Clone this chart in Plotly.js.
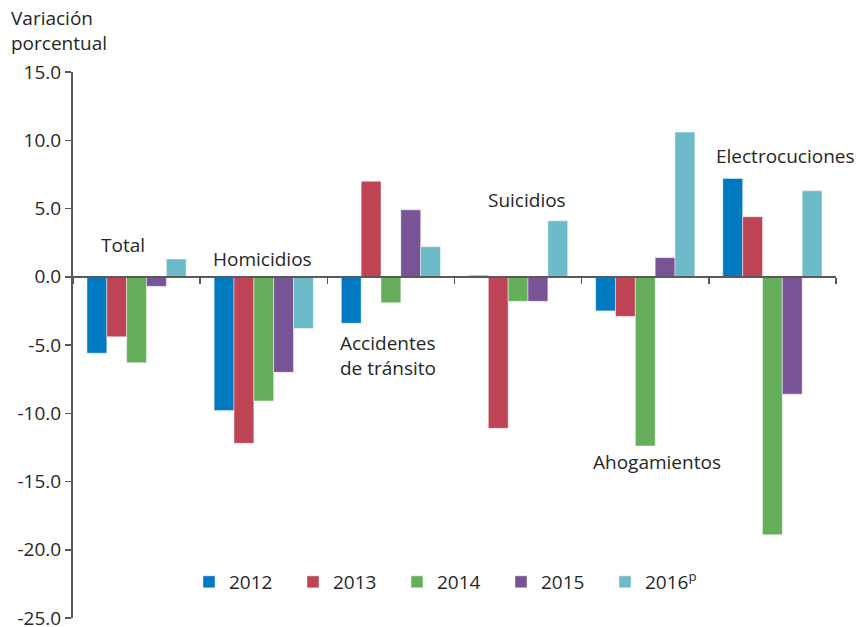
<!DOCTYPE html>
<html>
<head>
<meta charset="utf-8">
<script src="https://cdn.plot.ly/plotly-3.0.1.min.js"></script>
<style>html,body{margin:0;padding:0;background:#fff}#chart{width:859px;height:627px}</style>
</head>
<body>
<div id="chart"></div>
<script>
// ---- data ----
var categories = ["Total", "Homicidios", "Accidentes de tránsito", "Suicidios", "Ahogamientos", "Electrocuciones"];
var categoryLabels = ["Total", "Homicidios", "Accidentes<br>de tránsito", "Suicidios", "Ahogamientos", "Electrocuciones"];
var seriesNames = ["2012", "2013", "2014", "2015", "2016<sup>p</sup>"];
var v2012 = [-5.6, -9.8, -3.4, 0.1, -2.5, 7.2];
var v2013 = [-4.4, -12.2, 7.0, -11.1, -2.9, 4.4];
var v2014 = [-6.3, -9.1, -1.9, -1.8, -12.4, -18.9];
var v2015 = [-0.7, -7.0, 4.9, -1.8, 1.4, -8.6];
var v2016 = [1.3, -3.8, 2.2, 4.1, 10.6, 6.3];
var yTickVals = [-25, -20, -15, -10, -5, 0, 5, 10, 15];

// ---- styles ----
var colors = ["#0079C1", "#BE4455", "#65AF5A", "#785396", "#6DBAC8"];
var seriesValues = [v2012, v2013, v2014, v2015, v2016];
var FONT = "'Open Sans', Lato, sans-serif";
var TXT = "#262626";
var FS = 19;

var traces = seriesValues.map(function (vals, i) {
  return {
    type: "bar",
    name: seriesNames[i],
    x: categories,
    y: vals,
    marker: { color: colors[i], line: { color: "rgba(255,255,255,0.45)", width: 1 } },
    hoverinfo: "x+y+name"
  };
});

// label positions (layout only)
var labelPos = [
  [-0.11, 2.3], [0.99, 1.3], [1.98, -5.8], [3.07, 5.6], [4.09, -13.6], [5.1, 8.85]
];
var annotations = categoryLabels.map(function (t, i) {
  return {
    xref: "x", yref: "y", x: labelPos[i][0], y: labelPos[i][1],
    text: t, showarrow: false, xanchor: "center", yanchor: "middle",
    align: "left", font: { family: FONT, size: FS, color: TXT }
  };
});
annotations.push({
  xref: "paper", yref: "paper", x: -0.084, y: 1.0, xanchor: "left", yanchor: "bottom",
  yshift: 14, align: "left", showarrow: false,
  text: "Variación<br>porcentual", font: { family: FONT, size: FS, color: TXT }
});

var layout = {
  width: 859, height: 627,
  margin: { l: 73, r: 23, t: 72, b: 9 },
  paper_bgcolor: "#fff", plot_bgcolor: "#fff",
  font: { family: FONT, size: FS, color: TXT },
  barmode: "group", bargap: 0.22, bargroupgap: 0,
  showlegend: true,
  legend: {
    orientation: "h", x: 0.152, y: 0.066, xanchor: "left", yanchor: "middle",
    font: { family: FONT, size: FS, color: TXT }, entrywidth: 59, traceorder: "normal",
    bgcolor: "rgba(0,0,0,0)"
  },
  xaxis: {
    type: "category", range: [-0.5, 5.5],
    anchor: "free", position: 0.625,
    showline: true, linecolor: "#595959", linewidth: 2,
    ticks: "outside", tickson: "boundaries", ticklen: 6, tickwidth: 1.5, tickcolor: "#595959",
    showticklabels: false, showgrid: false, zeroline: false
  },
  yaxis: {
    range: [-25, 15], tickvals: yTickVals,
    ticktext: yTickVals.map(function (v) { return v.toFixed(1); }),
    showline: true, linecolor: "#595959", linewidth: 2,
    ticks: "outside", ticklen: 6, tickwidth: 1.5, tickcolor: "#595959",
    showgrid: false, zeroline: false, ticklabeloverflow: "allow",
    tickfont: { family: FONT, size: FS, color: TXT }
  },
  annotations: annotations
};

Plotly.newPlot("chart", traces, layout, { displayModeBar: false, staticPlot: true });
</script>
</body>
</html>
